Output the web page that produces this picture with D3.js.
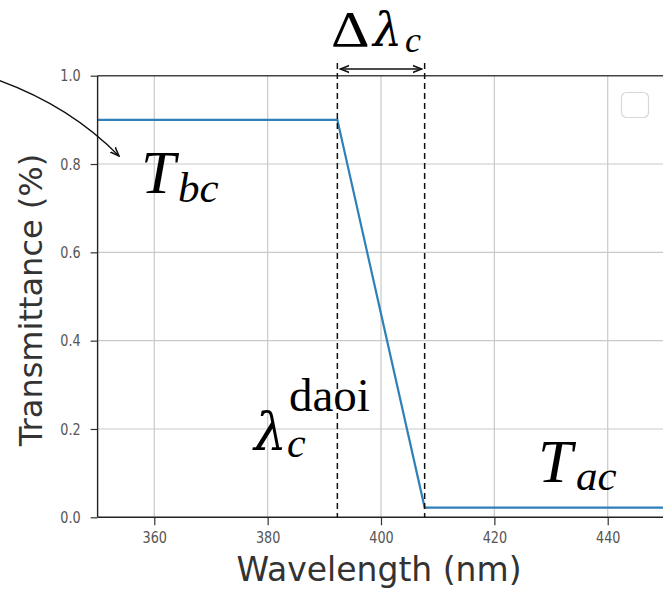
<!DOCTYPE html>
<html>
<head>
<meta charset="utf-8">
<script src="https://cdn.jsdelivr.net/npm/d3@7"></script>
<style>
  html, body { margin: 0; padding: 0; background: #fff; }
  svg { display: block; }
</style>
</head>
<body>
<svg id="chart" width="663" height="589"></svg>
<script>
// ---- data ----
const wavelength = [350, 392.3, 407.7, 450];
const transmittance = [0.9, 0.9, 0.022, 0.022];
const cutoffs = [392.3, 407.7];
const xTicks = [360, 380, 400, 420, 440];
const yTicks = [0.0, 0.2, 0.4, 0.6, 0.8, 1.0];
const xLabel = "Wavelength (nm)";
const yLabel = "Transmittance (%)";

const svg = d3.select("#chart");
const W = 663, H = 589;
const x = d3.scaleLinear().domain([350, 450]).range([97.6, 664.4]);
const y = d3.scaleLinear().domain([0, 1]).range([517.3, 75.7]);

// defs: markers
const defs = svg.append("defs");
defs.append("marker").attr("id", "arrowOpen")
  .attr("viewBox", "0 0 10 10").attr("refX", 9).attr("refY", 5)
  .attr("markerWidth", 10).attr("markerHeight", 10).attr("markerUnits", "userSpaceOnUse")
  .attr("orient", "auto-start-reverse")
  .append("path").attr("d", "M0,1.5 L9,5 L0,8.5").attr("fill", "none").attr("stroke", "#111").attr("stroke-width", 1.5);

const clip = defs.append("clipPath").attr("id", "plotclip");
clip.append("rect").attr("x", x(350)).attr("y", y(1)).attr("width", x(450) - x(350)).attr("height", y(0) - y(1));

// grid
const g = svg.append("g");
g.selectAll(".vgrid").data(xTicks).join("line")
  .attr("x1", d => x(d)).attr("x2", d => x(d))
  .attr("y1", y(1)).attr("y2", y(0))
  .attr("stroke", "#c9c9c9").attr("stroke-width", 1.2);
g.selectAll(".hgrid").data(yTicks.filter(d => d > 0 && d < 1)).join("line")
  .attr("x1", x(350)).attr("x2", x(450))
  .attr("y1", d => y(d)).attr("y2", d => y(d))
  .attr("stroke", "#c9c9c9").attr("stroke-width", 1.2);

// data line
const line = d3.line().x((d, i) => x(wavelength[i])).y(d => y(d));
svg.append("path").datum(transmittance)
  .attr("clip-path", "url(#plotclip)")
  .attr("d", line).attr("fill", "none")
  .attr("stroke", "#2f7fb8").attr("stroke-width", 2.2);

// spines
svg.append("line").attr("x1", x(350)).attr("x2", W).attr("y1", y(1)).attr("y2", y(1)).attr("stroke", "#444").attr("stroke-width", 1.4);
svg.append("line").attr("x1", x(350)).attr("x2", x(350)).attr("y1", y(1)).attr("y2", y(0)).attr("stroke", "#222").attr("stroke-width", 1.4);
svg.append("line").attr("x1", x(350)).attr("x2", W).attr("y1", y(0)).attr("y2", y(0)).attr("stroke", "#222").attr("stroke-width", 1.4);

// axes ticks via d3 axis
const xAxis = d3.axisBottom(x).tickValues(xTicks).tickSize(8).tickPadding(6).tickFormat(d3.format("d"));
const gx = svg.append("g").attr("transform", `translate(0,${y(0)})`).call(xAxis);
gx.select(".domain").remove();
gx.selectAll(".tick line").attr("stroke", "#333").attr("stroke-width", 1.2);
gx.selectAll(".tick text")
  .attr("font-family", "DejaVu Sans").attr("font-size", 16).attr("fill", "#555")
  .attr("transform", "scale(0.8,1)").attr("x", 0);

const yAxis = d3.axisLeft(y).tickValues(yTicks).tickSize(7).tickPadding(10).tickFormat(d3.format(".1f"));
const gy = svg.append("g").attr("transform", `translate(${x(350)},0)`).call(yAxis);
gy.select(".domain").remove();
gy.selectAll(".tick line").attr("stroke", "#333").attr("stroke-width", 1.2);
gy.selectAll(".tick text")
  .attr("font-family", "DejaVu Sans").attr("font-size", 16).attr("fill", "#555")
  .attr("transform", "scale(0.8,1)")
  .attr("x", -17 / 0.8);

// axis labels
svg.append("text").attr("x", 379).attr("y", 581)
  .attr("text-anchor", "middle").attr("font-family", "DejaVu Sans").attr("font-size", 33).attr("fill", "#333")
  .text(xLabel);
svg.append("text").attr("transform", `translate(42,300) rotate(-90)`)
  .attr("text-anchor", "middle").attr("font-family", "DejaVu Sans").attr("font-size", 32).attr("fill", "#333")
  .text(yLabel);

// empty legend box
svg.append("rect").attr("x", 621.5).attr("y", 92.5).attr("width", 27).attr("height", 25).attr("rx", 5)
  .attr("fill", "#fff").attr("stroke", "#d8d8d8").attr("stroke-width", 1.2);

// cutoff dashed lines
svg.selectAll(".cut").data(cutoffs).join("line")
  .attr("x1", d => x(d)).attr("x2", d => x(d))
  .attr("y1", 63).attr("y2", y(0))
  .attr("stroke", "#111").attr("stroke-width", 1.5).attr("stroke-dasharray", "6,4");

// double-headed arrow
svg.append("line")
  .attr("x1", x(cutoffs[0]) + 3).attr("x2", x(cutoffs[1]) - 3)
  .attr("y1", 69).attr("y2", 69)
  .attr("stroke", "#111").attr("stroke-width", 1.4)
  .attr("marker-start", "url(#arrowOpen)").attr("marker-end", "url(#arrowOpen)");

// curved arrow
svg.append("path").attr("d", "M-2,80 Q70,106 119,156")
  .attr("fill", "none").attr("stroke", "#111").attr("stroke-width", 1.3)
  .attr("marker-end", "url(#arrowOpen)");

// math annotations
const serif = "Liberation Serif";
function mtext(xp, yp, size, italic, str, fam) {
  return svg.append("text").attr("x", xp).attr("y", yp).attr("font-family", fam || serif)
    .attr("font-size", size).attr("font-style", italic ? "italic" : "normal").attr("fill", "#000").text(str);
}
// Δλ_c
mtext(0, 0, 50, false, "Δ").attr("transform", "translate(331,46) scale(1.2,1)");
mtext(373, 46, 46, true, "λ", "DejaVu Serif");
mtext(405, 52, 36, true, "c");
// T_bc
mtext(141, 193, 62, true, "T");
mtext(178, 202, 43, true, "bc");
// λ_c^daoi
mtext(254, 450, 52, true, "λ", "DejaVu Serif");
mtext(287, 457, 42, true, "c");
mtext(289, 411, 47, false, "daoi");
// T_ac
mtext(538, 482, 62, true, "T");
mtext(576, 490, 43, true, "ac");
</script>
</body>
</html>
